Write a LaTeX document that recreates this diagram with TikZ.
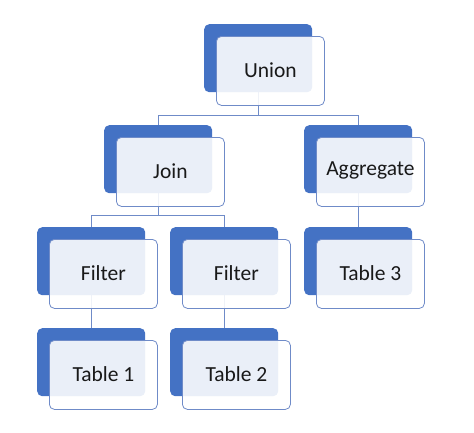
\documentclass[tikz,border=0pt]{standalone}
\usepackage{fontspec}
\setmainfont{Carlito}
\usetikzlibrary{backgrounds}
\definecolor{accent}{HTML}{4472C4}
\definecolor{linec}{HTML}{6F8BC8}
\tikzset{
  back/.style={draw=none, fill=accent, rounded corners=5pt, minimum width=108pt, minimum height=68pt, anchor=north west, inner sep=0pt},
  front/.style={draw=linec, line width=0.8pt, fill=white, fill opacity=0.89, text opacity=1, rounded corners=5pt, minimum width=108pt, minimum height=69pt, anchor=north west, inner sep=0pt},
  label/.style={font=\fontsize{21.5pt}{25pt}\selectfont, text=black!90, yshift=1pt}
}
\tikzset{conn/.style={draw=linec, line width=0.8pt}}
\begin{document}
\begin{tikzpicture}[x=1pt,y=-1pt]
\useasboundingbox (0,0) rectangle (474,432);
% Union
\node[back] (u-b) at (204,24) {};
\node[front] (u) at (216,36) {};
\node[label] (u-t) at (u.center) {Union};
% Join
\node[back] (j-b) at (104,125) {};
\node[front] (j) at (116,137) {};
\node[label] (j-t) at (j.center) {Join};
% Aggregate
\node[back] (a-b) at (304,125) {};
\node[front] (a) at (316,137) {};
\node[label] (a-t) at (a.center) {Aggregate};
% Filter 1
\node[back] (f1-b) at (37,227) {};
\node[front] (f1) at (49,239) {};
\node[label] (f1-t) at (f1.center) {Filter};
% Filter 2
\node[back] (f2-b) at (170,227) {};
\node[front] (f2) at (182,239) {};
\node[label] (f2-t) at (f2.center) {Filter};
% Table 3
\node[back] (t3-b) at (304,227) {};
\node[front] (t3) at (316,239) {};
\node[label] (t3-t) at (t3.center) {Table 3};
% Table 1
\node[back] (t1-b) at (37,328) {};
\node[front] (t1) at (49,340) {};
\node[label] (t1-t) at (t1.center) {Table 1};
% Table 2
\node[back] (t2-b) at (170,328) {};
\node[front] (t2) at (182,340) {};
\node[label] (t2-t) at (t2.center) {Table 2};
\begin{scope}[on background layer]
\coordinate (bar1) at (0,115);
\coordinate (bar2) at (0,215);
\draw[conn] (u-b.center) -- (u-b.center |- bar1);
\draw[conn] (j-b.center) -- (j-b.center |- bar1) -| (a-b.center);
\draw[conn] (j-b.center) -- (j-b.center |- bar2);
\draw[conn] (f1-b.center) -- (f1-b.center |- bar2) -| (f2-b.center);
\draw[conn] (a-b.center) -- (t3-b.center);
\draw[conn] (f1-b.center) -- (t1-b.center);
\draw[conn] (f2-b.center) -- (t2-b.center);
\end{scope}
\end{tikzpicture}
\end{document}
